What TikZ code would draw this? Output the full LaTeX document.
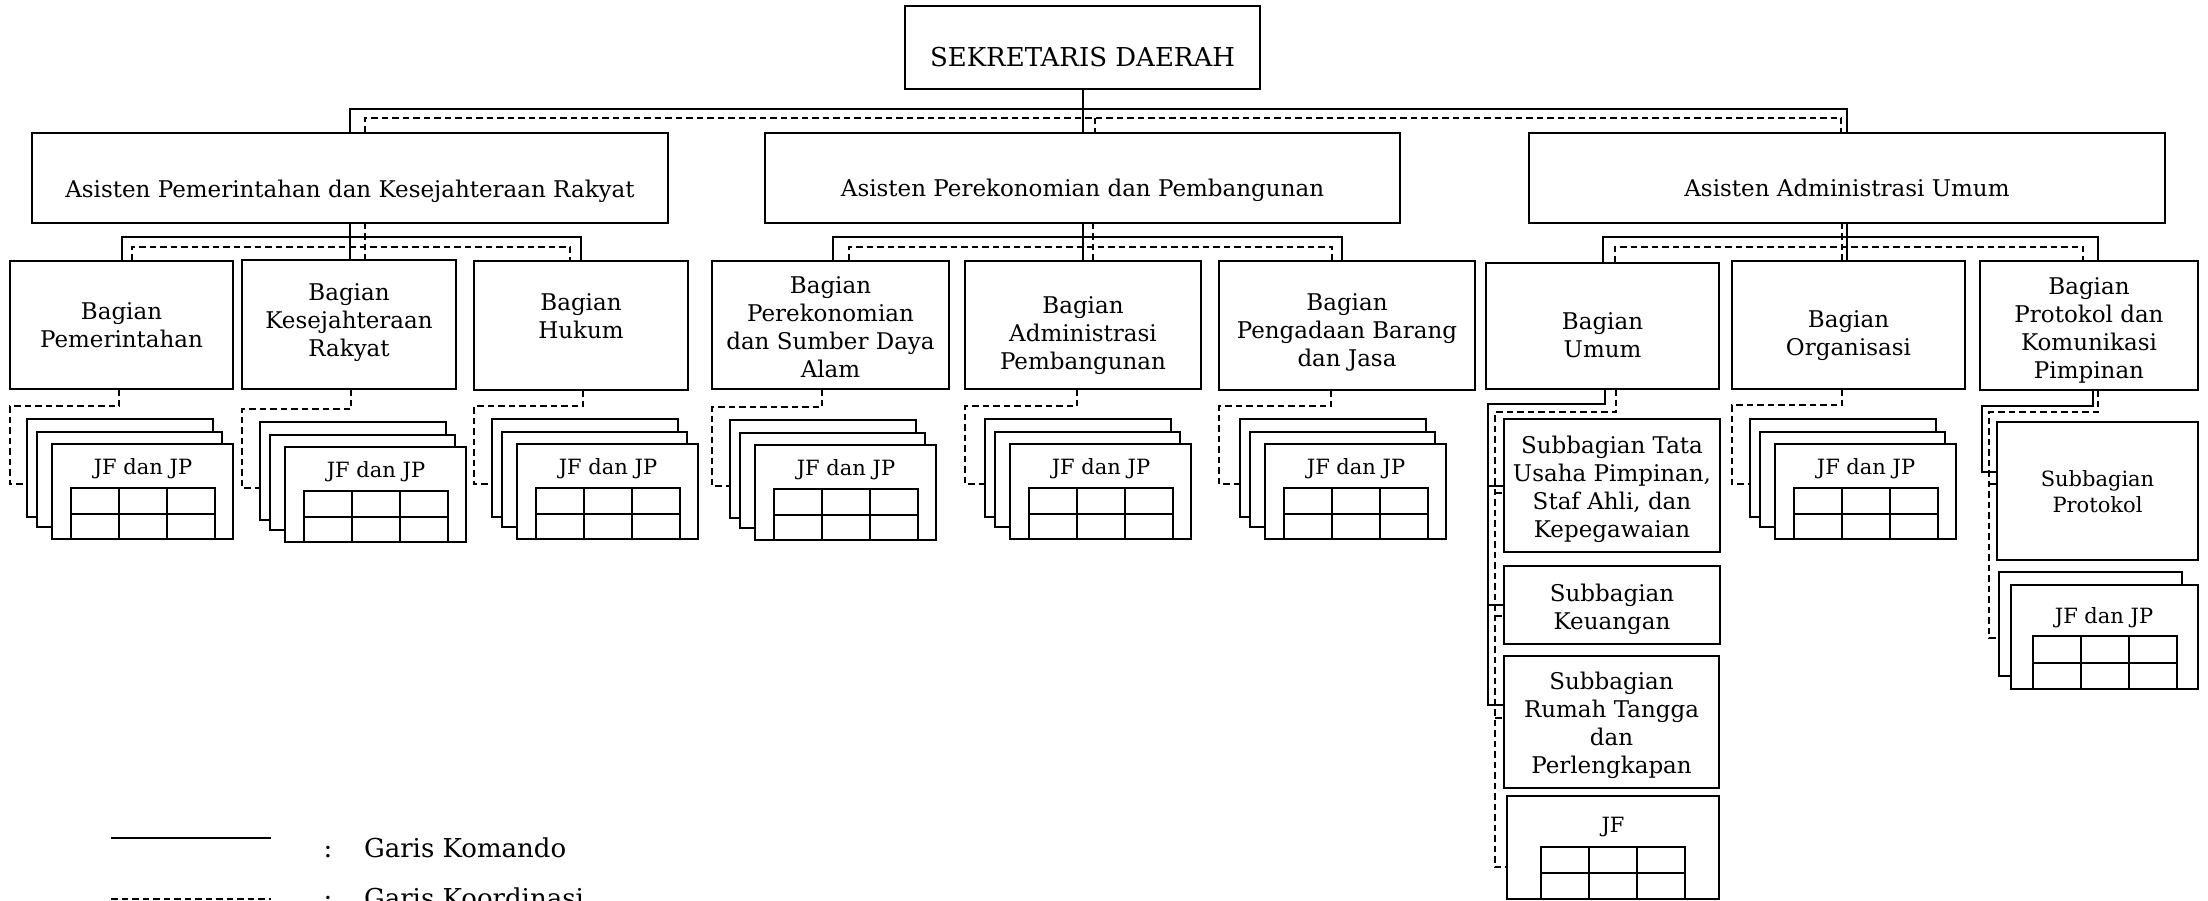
\documentclass[tikz,border=0pt]{standalone}
\usepackage{fontspec}
\setmainfont{DejaVu Serif}
\usetikzlibrary{calc}
\tikzset{
 box/.style={draw,line width=2pt,fill=white,inner sep=0pt,outer sep=0pt},
 txt/.style={inner sep=0pt,outer sep=0pt,align=center,font=\fontsize{23}{28}\selectfont},
 big/.style={font=\fontsize{26}{31}\selectfont},
 small/.style={font=\fontsize{21}{26}\selectfont},
 cmd/.style={line width=2pt},
 crd/.style={line width=2pt,dash pattern=on 6.5pt off 4pt},
 tbl/.style={line width=2pt},
}
\newcommand\orgcard[5]{%
 \pgfmathsetmacro\obw{#4-(#2)}\pgfmathsetmacro\obh{#5-(#3)}%
 \node[box,minimum width=\obw pt,minimum height=\obh pt] (#1) at ({((#2)+(#4))/2},{((#3)+(#5))/2}) {};}
\newcommand\orgbox[8][]{\orgcard{#2}{#3}{#4}{#5}{#6}%
 \node[txt,#1] (#2t) at ({((#3)+(#5))/2},{((#4)+(#6))/2+(#7)}) {#8};}
\newcommand\jfgrid[4]{%
 \draw[tbl] ({#1},{#2}) rectangle ({#3},{#4});
 \draw[tbl] ({#1},{((#2)+(#4))/2}) -- ({#3},{((#2)+(#4))/2});
 \draw[tbl] ({(2*(#1)+(#3))/3},{#2}) -- ({(2*(#1)+(#3))/3},{#4});
 \draw[tbl] ({((#1)+2*(#3))/3},{#2}) -- ({((#1)+2*(#3))/3},{#4});}
\newcommand\jfstack[3]{%
 \orgcard{#1a}{#2}{#3}{#2+186}{#3+98}%
 \orgcard{#1b}{#2+10}{#3+13}{#2+195}{#3+108}%
 \orgcard{#1c}{#2+25}{#3+25}{#2+206}{#3+120}%
 \node[txt,small] (#1t) at ({#2+116},{#3+50}) {JF dan JP};
 \jfgrid{#2+44}{#3+69}{#2+188}{#3+120}}
\newcommand\jfconn[5]{%
 \coordinate (#1-d) at (#2,#3); \coordinate (#1-j) at (0,#5);
 \draw[crd] (#1-d |- #1.south) -- (#1-d) -- (#1.west |- #1-d) -- (#1.west |- #1-j) -- (#4a.west |- #1-j);}
\begin{document}
\begin{tikzpicture}[x=1pt,y=-1pt]
\fill[white] (0,0) rectangle (2208,901);
\useasboundingbox (0,0) rectangle (2208,901);
\clip (0,0) rectangle (2208,901);

% ---------- boxes ----------
\orgbox[big]{sek}{905}{6}{1260}{89}{9.5}{SEKRETARIS DAERAH}
\orgbox{a1}{32}{133}{668}{223}{13}{Asisten Pemerintahan dan Kesejahteraan Rakyat}
\orgbox{a2}{765}{133}{1400}{223}{12}{Asisten Perekonomian dan Pembangunan}
\orgbox{a3}{1529}{133}{2165}{223}{10}{Asisten Administrasi Umum}

\orgbox{b1}{10}{261}{233}{389}{0}{Bagian\\Pemerintahan}
\orgbox{b2}{242}{260}{456}{389}{-2}{Bagian\\Kesejahteraan\\Rakyat}
\orgbox{b3}{474}{261}{688}{390}{-9.5}{Bagian\\Hukum}
\orgbox{b4}{712}{261}{949}{389}{2.5}{Bagian\\Perekonomian\\dan Sumber Daya\\Alam}
\orgbox{b5}{965}{261}{1201}{389}{11}{Bagian\\Administrasi\\Pembangunan}
\orgbox{b6}{1219}{261}{1475}{390}{6.5}{Bagian\\Pengadaan Barang\\dan Jasa}
\orgbox{c1}{1486}{263}{1719}{389}{9.5}{Bagian\\Umum}
\orgbox{c2}{1732}{261}{1965}{389}{11}{Bagian\\Organisasi}
\orgbox{c3}{1980}{261}{2198}{390}{4.5}{Bagian\\Protokol dan\\Komunikasi\\Pimpinan}

\orgbox{s1}{1504}{419}{1720}{552}{4}{Subbagian Tata\\Usaha Pimpinan,\\Staf Ahli, dan\\Kepegawaian}
\orgbox{s2}{1504}{566}{1720}{644}{4}{Subbagian\\Keuangan}
\orgbox{s3}{1504}{656}{1719}{788}{3.5}{Subbagian\\Rumah Tangga\\dan\\Perlengkapan}
\orgbox[small]{jfu}{1507}{796}{1719}{899}{-20}{JF}
\jfgrid{1541}{847}{1685}{899}
\orgbox[small]{sp}{1997}{422}{2198}{560}{0.5}{Subbagian\\Protokol}

% ---------- JF dan JP stacks ----------
\jfstack{k1}{27}{419}
\jfstack{k2}{260}{422}
\jfstack{k3}{492}{419}
\jfstack{k4}{730}{420}
\jfstack{k5}{985}{419}
\jfstack{k6}{1240}{419}
\jfstack{k7}{1750}{419}
\orgcard{kpa}{1999}{572}{2182}{676}
\orgcard{kpc}{2011}{585}{2198}{689}
\node[txt,small] (kpt) at (2104,618) {JF dan JP};
\jfgrid{2033}{636}{2177}{689}

% ---------- level 1 ----------
\coordinate (yT) at (0,109); \coordinate (yTd) at (0,118);
\coordinate (t1) at (365,0); \coordinate (t2) at (1095,0); \coordinate (t3) at (1841,0);
\draw[cmd] (sek.south) -- (sek.south |- a2.north);
\draw[cmd] (a1.north) -- (a1.north |- yT) -- (a3.north |- yT) -- (a3.north);
\draw[crd] (t1 |- a1.north) -- (t1 |- yTd) -- (t3 |- yTd) -- (t3 |- a3.north);
\draw[crd] (t2 |- yTd) -- (t2 |- a2.north);

% ---------- level 2 ----------
\coordinate (yA) at (0,237); \coordinate (yAd) at (0,247);
% group 1
\coordinate (g1l) at (132,0); \coordinate (g1r) at (570,0); \coordinate (g1c) at (365,0);
\draw[cmd] (a1.south) -- (a1.south |- b2.north);
\draw[cmd] (b1.north) -- (b1.north |- yA) -- (b3.north |- yA) -- (b3.north);
\draw[crd] (g1l |- b1.north) -- (g1l |- yAd) -- (g1r |- yAd) -- (g1r |- b3.north);
\draw[crd] (g1c |- a1.south) -- (g1c |- b2.north);
% group 2
\coordinate (g2sl) at (833,0); \coordinate (g2sr) at (1342,0);
\coordinate (g2l) at (849,0); \coordinate (g2r) at (1332,0); \coordinate (g2c) at (1093,0);
\draw[cmd] (a2.south) -- (a2.south |- b5.north);
\draw[cmd] (g2sl |- b4.north) -- (g2sl |- yA) -- (g2sr |- yA) -- (g2sr |- b6.north);
\draw[crd] (g2l |- b4.north) -- (g2l |- yAd) -- (g2r |- yAd) -- (g2r |- b6.north);
\draw[crd] (g2c |- a2.south) -- (g2c |- b5.north);
% group 3
\coordinate (g3sr) at (2098,0);
\coordinate (g3l) at (1615,0); \coordinate (g3r) at (2083,0); \coordinate (g3c) at (1842,0);
\draw[cmd] (a3.south) -- (a3.south |- c2.north);
\draw[cmd] (c1.north) -- (c1.north |- yA) -- (g3sr |- yA) -- (g3sr |- c3.north);
\draw[crd] (g3l |- c1.north) -- (g3l |- yAd) -- (g3r |- yAd) -- (g3r |- c3.north);
\draw[crd] (g3c |- a3.south) -- (g3c |- c2.north);

% ---------- coordination to JF stacks ----------
\jfconn{b1}{119}{406}{k1}{484}
\jfconn{b2}{351}{409}{k2}{488}
\jfconn{b3}{583}{406}{k3}{484}
\jfconn{b4}{822}{407}{k4}{486}
\jfconn{b5}{1077}{406}{k5}{484}
\jfconn{b6}{1331}{406}{k6}{484}
\jfconn{c2}{1842}{405}{k7}{484}

% ---------- Bagian Umum ----------
\coordinate (u1) at (1605,404); \coordinate (u1x) at (1488,0); \coordinate (u1e) at (1488,705);
\draw[cmd] (u1 |- c1.south) -- (u1) -- (u1x |- u1) -- (u1e) -- (s3.west |- u1e);
\draw[cmd] (u1x |- s1.west) -- (s1.west);
\draw[cmd] (u1x |- s2.west) -- (s2.west);
\coordinate (u2) at (1616,412); \coordinate (u2x) at (1495,0); \coordinate (u2e) at (1495,867);
\draw[crd] (u2 |- c1.south) -- (u2) -- (u2x |- u2) -- (u2e) -- (jfu.west |- u2e);
\coordinate (u2a) at (1495,493); \coordinate (u2b) at (1495,616); \coordinate (u2c) at (1495,718);
\draw[crd] (u2a) -- (s1.west |- u2a);
\draw[crd] (u2b) -- (s2.west |- u2b);
\draw[crd] (u2c) -- (s3.west |- u2c);

% ---------- Bagian Protokol ----------
\coordinate (p1) at (2093,406); \coordinate (p1x) at (1982,472);
\draw[cmd] (p1 |- c3.south) -- (p1) -- (p1x |- p1) -- (p1x) -- (sp.west |- p1x);
\coordinate (p2) at (2098,412); \coordinate (p2x) at (1989,638); \coordinate (p2a) at (1989,484);
\draw[crd] (p2 |- c3.south) -- (p2) -- (p2x |- p2) -- (p2x) -- (kpa.west |- p2x);
\draw[crd] (p2a) -- (sp.west |- p2a);

% ---------- legend ----------
\coordinate (lg1a) at (111,838); \coordinate (lg1b) at (271,838);
\draw[cmd] (lg1a) -- (lg1b);
\node[txt,big,anchor=base] (lgc1) at (328,857) {:};
\node[txt,big,anchor=base west] (lgt1) at (364,857) {Garis Komando};
\coordinate (lg2a) at (111,899); \coordinate (lg2b) at (271,899);
\draw[crd] (lg2a) -- (lg2b);
\node[txt,big,anchor=base] (lgc2) at (328,907) {:};
\node[txt,big,anchor=base west] (lgt2) at (364,907) {Garis Koordinasi};
\end{tikzpicture}
\end{document}
